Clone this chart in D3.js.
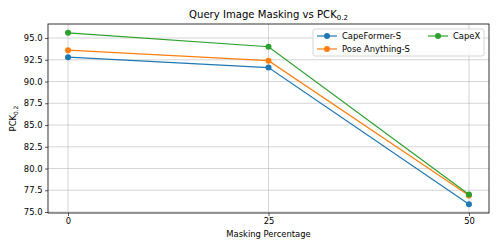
<!DOCTYPE html>
<html>
<head>
<meta charset="utf-8">
<script src="https://cdn.jsdelivr.net/npm/d3@7"></script>
<style>
  body { margin: 0; background: #fff; }
  svg text { font-family: "DejaVu Sans", sans-serif; fill: #000; }
</style>
</head>
<body>
<div class="chart"></div>
<script>
// Data
const maskLevels = [0, 25, 50];
const seriesNames = ['CapeFormer-S', 'Pose Anything-S', 'CapeX'];
const capeFormer = [92.8, 91.6, 75.9];
const poseAnything = [93.6, 92.4, 76.9];
const capeX = [95.6, 94.0, 77.0];
const yTicks = [75.0, 77.5, 80.0, 82.5, 85.0, 87.5, 90.0, 92.5, 95.0];
const colors = ['#1f77b4', '#ff7f0e', '#2ca02c'];

const W = 498, H = 249;
const margin = {top: 24, right: 9, bottom: 36, left: 48};
const width = W - margin.left - margin.right,
    height = H - margin.top - margin.bottom;
const fs = '8.4px';

const svg = d3.select('.chart')
    .append('svg')
        .attr('width', W)
        .attr('height', H);
const g = svg.append('g')
    .attr('transform', `translate(${margin.left},${margin.top})`);

// Scales with matplotlib-like 5% padding
const x = d3.scaleLinear().domain([-2.5, 52.5]).range([0, width]);
const y = d3.scaleLinear().domain([74.885, 96.615]).range([height, 0]);

// Grid
g.append('g').selectAll('line')
    .data(yTicks).enter().append('line')
        .attr('x1', 0).attr('x2', width)
        .attr('y1', d => y(d)).attr('y2', d => y(d))
        .attr('stroke', '#b0b0b0').attr('stroke-width', 0.65).attr('opacity', 0.8);
g.append('g').selectAll('line')
    .data(maskLevels).enter().append('line')
        .attr('y1', 0).attr('y2', height)
        .attr('x1', d => x(d)).attr('x2', d => x(d))
        .attr('stroke', '#b0b0b0').attr('stroke-width', 0.65).attr('opacity', 0.8);

// Axes
const xAxis = g.append('g')
    .attr('transform', `translate(0,${height})`)
    .call(d3.axisBottom(x).tickValues(maskLevels).tickSize(3).tickPadding(2.5).tickFormat(d3.format('d')));
const yAxis = g.append('g')
    .call(d3.axisLeft(y).tickValues(yTicks).tickSize(3).tickPadding(2.5).tickFormat(d3.format('.1f')));
[xAxis, yAxis].forEach(a => {
    a.select('.domain').remove();
    a.selectAll('text').style('font-size', fs).style('font-family', '"DejaVu Sans", sans-serif');
    a.selectAll('line').attr('stroke', '#000').attr('stroke-width', 0.65);
});

// Frame
g.append('rect')
    .attr('width', width).attr('height', height)
    .attr('fill', 'none').attr('stroke', '#000').attr('stroke-width', 0.8);

// Lines and markers
const series = [capeFormer, poseAnything, capeX];
const line = d3.line().x((d, i) => x(maskLevels[i])).y(d => y(d));
series.forEach((vals, k) => {
    g.append('path')
        .datum(vals)
        .attr('d', line)
        .attr('fill', 'none')
        .attr('stroke', colors[k])
        .attr('stroke-width', 1.2);
    g.selectAll(`.dot${k}`)
        .data(vals).enter().append('circle')
            .attr('class', `dot${k}`)
            .attr('cx', (d, i) => x(maskLevels[i]))
            .attr('cy', d => y(d))
            .attr('r', 3)
            .attr('fill', colors[k]);
});

// Legend
const leg = svg.append('g').attr('transform', 'translate(313,29)');
leg.append('rect')
    .attr('width', 171).attr('height', 27).attr('rx', 2)
    .attr('fill', '#fff').attr('fill-opacity', 0.8)
    .attr('stroke', '#cccccc').attr('stroke-width', 0.8);
const legPos = [[4, 7], [4, 20], [115, 7]];
seriesNames.forEach((name, k) => {
    const item = leg.append('g').attr('transform', `translate(${legPos[k][0]},${legPos[k][1]})`);
    item.append('line').attr('x1', 0).attr('x2', 20).attr('y1', 0).attr('y2', 0)
        .attr('stroke', colors[k]).attr('stroke-width', 1.2);
    item.append('circle').attr('cx', 10).attr('cy', 0).attr('r', 3).attr('fill', colors[k]);
    item.append('text').attr('x', 25).attr('y', 0).attr('dy', '0.35em')
        .style('font-size', fs).text(name);
});

// Title
const title = svg.append('text')
    .attr('x', margin.left + width / 2).attr('y', 18)
    .attr('text-anchor', 'middle')
    .style('font-size', '10.1px');
title.append('tspan').text('Query Image Masking vs PCK');
title.append('tspan').attr('dy', 2).style('font-size', '7px').text('0.2');

// Axis labels
svg.append('text')
    .attr('x', margin.left + width / 2).attr('y', 237)
    .attr('text-anchor', 'middle')
    .style('font-size', fs)
    .text('Masking Percentage');
const yl = svg.append('text')
    .attr('transform', `translate(16, ${margin.top + height / 2}) rotate(-90)`)
    .attr('text-anchor', 'middle')
    .style('font-size', fs);
yl.append('tspan').text('PCK');
yl.append('tspan').attr('dy', 2).style('font-size', '5.9px').text('0.2');
</script>
</body>
</html>
